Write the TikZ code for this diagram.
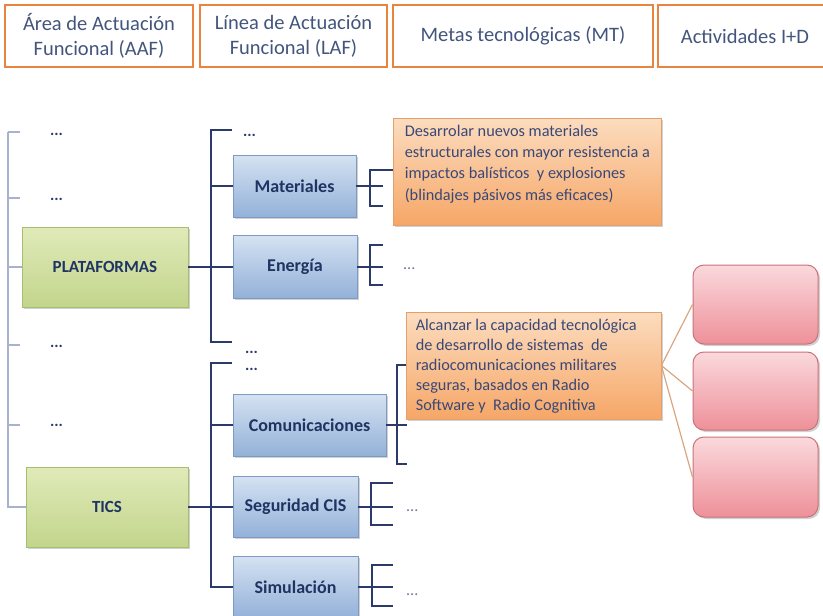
\documentclass[tikz,border=0pt]{standalone}
\usepackage{fontspec}
\setmainfont{Carlito}
\usetikzlibrary{shadows}
\definecolor{hdrline}{HTML}{E8843E}
\definecolor{hdrtext}{HTML}{44557D}
\definecolor{navy}{HTML}{2C3A6B}
\definecolor{lightbr}{HTML}{A7B2CE}
\definecolor{boxtext}{HTML}{1F3463}
\definecolor{otext}{HTML}{3A4877}
\definecolor{gtop}{HTML}{E0EAB9}
\definecolor{gbot}{HTML}{C3D58C}
\definecolor{gline}{HTML}{A6BF6E}
\definecolor{btop}{HTML}{D5E2F2}
\definecolor{bbot}{HTML}{93B1D8}
\definecolor{bline}{HTML}{7D99C4}
\definecolor{otop}{HTML}{FCDCBF}
\definecolor{obot}{HTML}{F6A767}
\definecolor{oline}{HTML}{E2A06C}
\definecolor{ptop}{HTML}{FAD9DD}
\definecolor{pbot}{HTML}{EE9099}
\definecolor{pline}{HTML}{C97379}
\definecolor{conn}{HTML}{DCA57E}
\definecolor{dotgray}{HTML}{6E7590}
\begin{document}
\begin{tikzpicture}[x=1pt,y=-1pt,
  shad/.style={drop shadow={shadow xshift=2pt,shadow yshift=-2pt,opacity=0.3,fill=black!60}},
  hdr/.style={draw=hdrline,line width=2.2pt,fill=white,text=hdrtext,
    font=\fontsize{20.5}{25}\selectfont,align=center,inner sep=0pt,minimum height=62pt},
  gbox/.style={shad,draw=gline,line width=0.8pt,top color=gtop,bottom color=gbot,
    text=boxtext,font=\fontsize{17}{20}\selectfont\bfseries,minimum height=80pt,inner sep=0pt},
  bbox/.style={shad,draw=bline,line width=0.8pt,top color=btop,bottom color=bbot,
    text=boxtext,font=\fontsize{18}{21}\selectfont\bfseries,inner sep=0pt},
  obox/.style={shad,draw=oline,line width=0.8pt,top color=otop,bottom color=obot,inner sep=0pt},
  otxt/.style={text=otext,align=left,inner sep=0pt},
  pbox/.style={shad,draw=pline,line width=1pt,top color=ptop,bottom color=pbot,
    rounded corners=11pt,inner sep=0pt,minimum width=125pt},
  lbr/.style={draw=lightbr,line width=1.5pt},
  br/.style={draw=navy,line width=2pt},
  dots/.style={font=\fontsize{16}{16}\selectfont\bfseries,text=navy,inner sep=0pt,anchor=base west},
  ldots/.style={font=\fontsize{16}{16}\selectfont,text=dotgray,inner sep=0pt,anchor=base west},
  cn/.style={draw=conn,line width=1.2pt}]
\useasboundingbox (0,0) rectangle (823,616);

% header
\node[hdr,minimum width=188pt] (h1) at (99,36) {Área de Actuación\\Funcional (AAF)};
\node[hdr,minimum width=187pt] (h2) at (293.5,36) {Línea de Actuación\\Funcional (LAF)};
\node[hdr,minimum width=260pt] (h3) at (523,36) {Metas tecnológicas (MT)};
\node[hdr,minimum width=174pt] (h4) at (745,36) {Actividades I+D};

% AAF boxes
\node[gbox,minimum width=166pt] (plat) at (105,267) {PLATAFORMAS};
\node[gbox,minimum width=162pt] (tics) at (107,507) {TICS};

% LAF boxes
\node[bbox,minimum width=123pt,minimum height=62pt] (mat) at (294.5,186) {Materiales};
\node[bbox,minimum width=124pt,minimum height=63pt] (ene) at (295,266.5) {Energía};
\node[bbox,minimum width=153pt,minimum height=62pt] (com) at (309.5,425) {Comunicaciones};
\node[bbox,minimum width=125pt,minimum height=61pt] (seg) at (295.5,506.5) {Seguridad CIS};
\node[bbox,minimum width=125pt,minimum height=62pt] (sim) at (295.5,587) {Simulación};

% MT boxes
\node[obox,minimum width=268pt,minimum height=107pt] (mt1) at (527,171.5) {};
\node[otxt,anchor=north west,font=\fontsize{16.3}{21.3}\selectfont] (mt1t) at ([shift={(12,7)}]mt1.north west)
  {Desarrolar nuevos materiales\\estructurales con mayor resistencia a\\impactos balísticos\ \ y explosiones\\(blindajes pásivos más eficaces)};
\node[obox,minimum width=255pt,minimum height=107pt] (mt2) at (533.5,365.5) {};
\node[otxt,anchor=north west,font=\fontsize{16.3}{20}\selectfont] (mt2t) at ([shift={(10,7)}]mt2.north west)
  {Alcanzar la capacidad tecnológica\\de desarrollo de sistemas\ \ de\\radiocomunicaciones militares\\seguras, basados en Radio\\Software y\ \ Radio Cognitiva};

% I+D boxes
\node[pbox,minimum height=79pt] (pk1) at (755.5,304.5) {};
\node[pbox,minimum height=78pt] (pk2) at (755.5,391) {};
\node[pbox,minimum height=80pt] (pk3) at (755.5,477) {};
\draw[cn] (mt2.east) -- (pk1.west);
\draw[cn] (mt2.east) -- (pk2.west);
\draw[cn] (mt2.east) -- (pk3.west);

% left (AAF) bracket
\coordinate (lt) at (8,132);
\draw[lbr] (lt) -- (tics.west -| lt) -- (tics.west);
\draw[lbr] (plat.west -| lt) -- (plat.west);
\foreach \y in {132,198,345,425} \draw[lbr] (8,\y) -- ++(12,0);
\node[dots] (ld1) at (50,135) {...};
\node[dots] (ld2) at (50,200) {...};
\node[dots] (ld3) at (50,347) {...};
\node[dots] (ld4) at (50,426) {...};

% PLATAFORMAS bracket
\coordinate (at) at (211,130);
\coordinate (ab) at (211,342);
\draw[br] ([xshift=21pt]at) -- (at) -- (ab) -- ([xshift=21pt]ab);
\draw[br] (mat.west -| at) -- (mat.west);
\draw[br] (plat.east) -- (plat.east -| ene.west);
\node[dots] (pd1) at (243,136) {...};
\node[dots] (pd2) at (245,353) {...};

% TICS bracket
\coordinate (bt) at (211,363);
\draw[br] ([xshift=21pt]bt) -- (bt) -- (sim.west -| bt) -- (sim.west);
\draw[br] (com.west -| bt) -- (com.west);
\draw[br] (tics.east) -- (tics.east -| seg.west);
\node[dots] (td1) at (245,370) {...};

% MT brackets
\coordinate (ma) at (370,170); \coordinate (mb) at (370,206);
\draw[br] (mt1.west |- ma) -- (ma) -- (mb) -- ++(13,0);
\draw[br] (mat.east) -- ++(27,0);

\coordinate (ea) at (370,245); \coordinate (eb) at (370,285);
\draw[br] ([xshift=13pt]ea) -- (ea) -- (eb) -- ([xshift=13pt]eb);
\draw[br] (ene.east) -- ++(26,0);
\node[ldots] (ed) at (403,269) {...};

\coordinate (ca) at (397,365); \coordinate (cb) at (397,464);
\draw[br] (mt2.west |- ca) -- (ca) -- (cb) -- ++(10,0);
\draw[br] (com.east) -- ++(21,0);

\coordinate (sa) at (371,483); \coordinate (sb) at (371,525);
\draw[br] ([xshift=22pt]sa) -- (sa) -- (sb) -- ([xshift=22pt]sb);
\draw[br] (seg.east) -- ++(35,0);
\node[ldots] (sd) at (406,511) {...};

\coordinate (ua) at (372,565); \coordinate (ub) at (372,606);
\draw[br] ([xshift=21pt]ua) -- (ua) -- (ub) -- ([xshift=21pt]ub);
\draw[br] (sim.east) -- ++(35,0);
\node[ldots] (ud) at (406,595) {...};
\end{tikzpicture}
\end{document}
